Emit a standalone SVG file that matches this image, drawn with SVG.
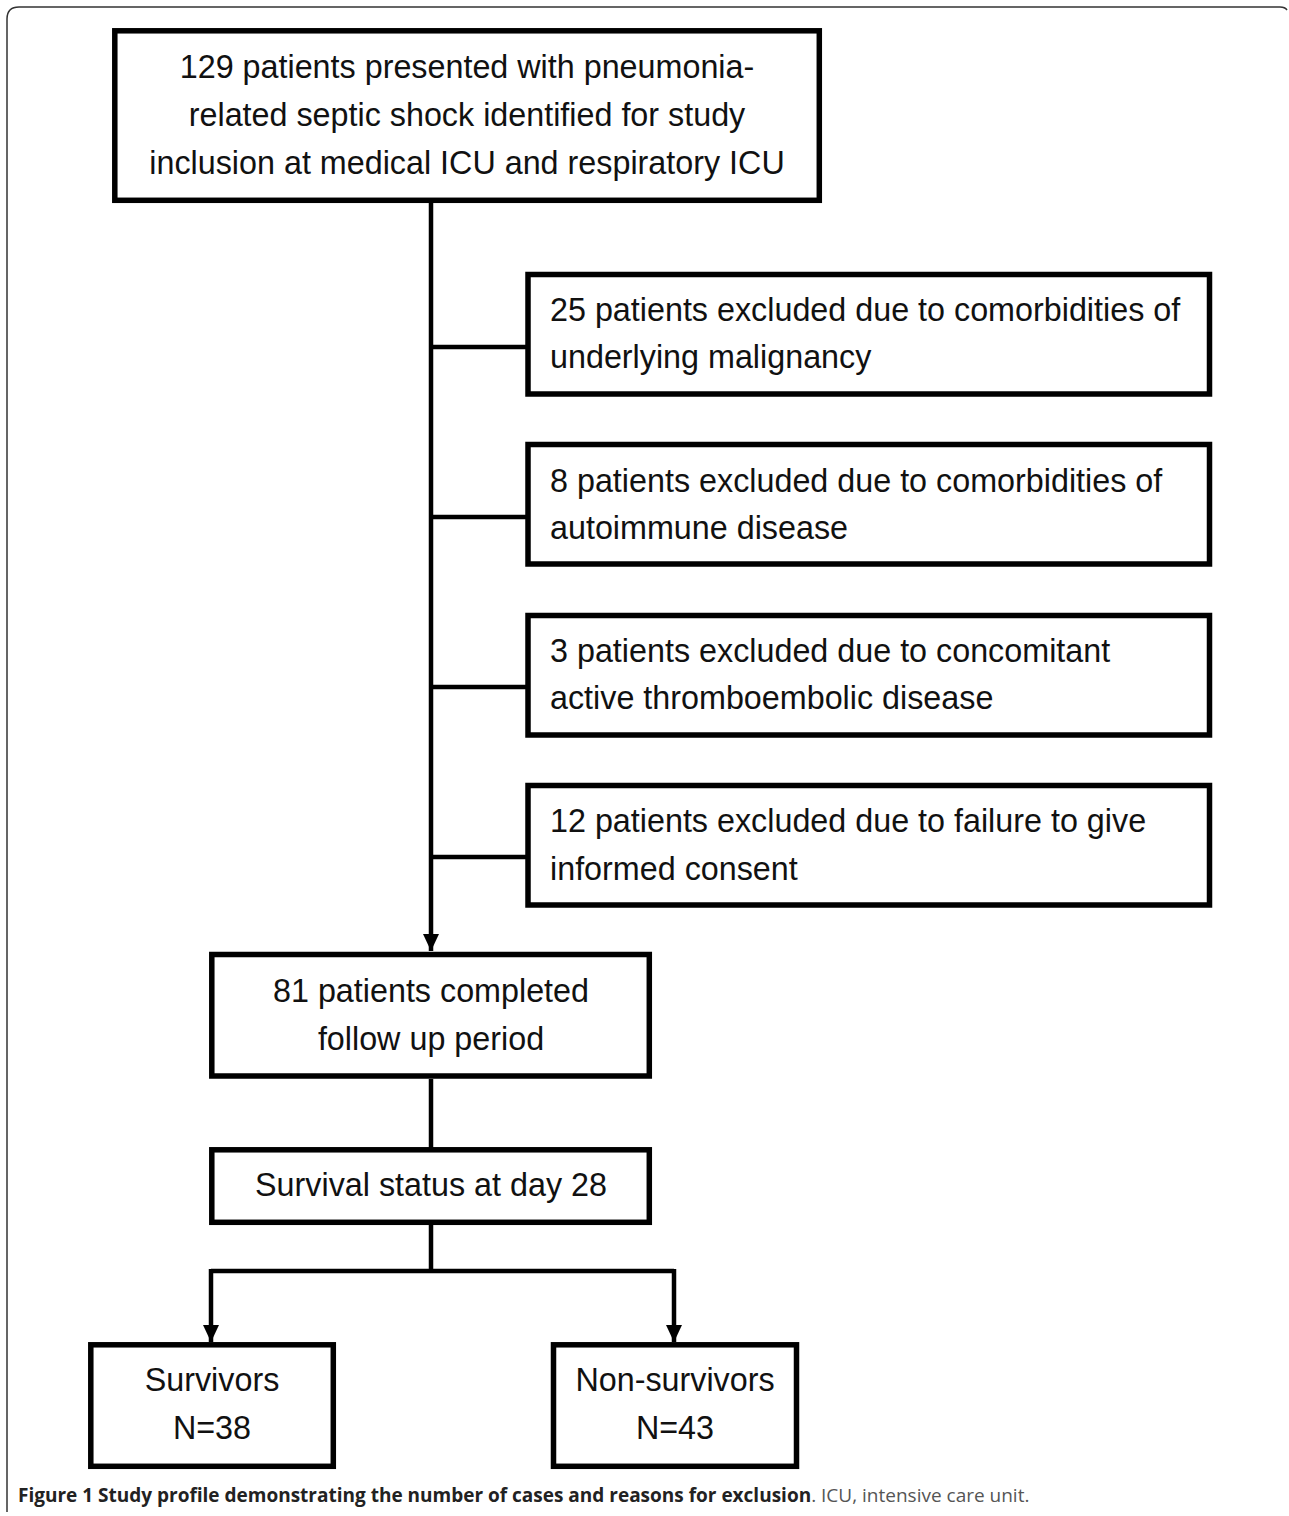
<svg xmlns="http://www.w3.org/2000/svg" width="1289" height="1516" viewBox="0 0 1289 1516">
<defs>
<marker id="arr" markerUnits="userSpaceOnUse" markerWidth="18" markerHeight="18" viewBox="0 0 18 18" refX="17" refY="9" orient="auto">
<path d="M0,1 L17,9 L0,17 Z" fill="#000"/>
</marker>
<style>
.box{fill:#fff;stroke:#000;stroke-width:5.5}
.t{font-family:"Liberation Sans",Arial,sans-serif;font-size:32.3px;fill:#111}
.c{text-anchor:middle}
.ln{fill:none;stroke:#000;stroke-width:4.5}
.cap{font-family:"Open Sans","Noto Sans",sans-serif;font-size:19px}
</style>
</defs>
<rect width="1289" height="1516" fill="#fff"/>
<path d="M7,1512 V19 Q7,7 19,7 H1280 Q1285,7 1287,10" fill="none" stroke="#333" stroke-width="1.5"/>

<g id="connectors">
<path class="ln" d="M431,203 V951" marker-end="url(#arr)"/>
<path class="ln" d="M431,347 H526 M431,517 H526 M431,687 H526 M431,857 H526"/>
<path class="ln" d="M431,1079 V1148"/>
<path class="ln" d="M431,1225 V1271 M211,1271 H674"/>
<path class="ln" d="M211,1269 V1342" marker-end="url(#arr)"/>
<path class="ln" d="M674,1269 V1342" marker-end="url(#arr)"/>
</g>

<g id="n_start">
<rect class="box" x="114.8" y="30.8" width="704.5" height="169.5"/>
<text class="t c" x="467" y="78">129 patients presented with pneumonia-</text>
<text class="t c" x="467" y="126">related septic shock identified for study</text>
<text class="t c" x="467" y="174">inclusion at medical ICU and respiratory ICU</text>
</g>

<g id="n_ex1">
<rect class="box" x="528" y="274.5" width="681.5" height="119.5"/>
<text class="t" x="550" y="321">25 patients excluded due to comorbidities of</text>
<text class="t" x="550" y="368">underlying malignancy</text>
</g>
<g id="n_ex2">
<rect class="box" x="528" y="444.5" width="681.5" height="119.5"/>
<text class="t" x="550" y="492">8 patients excluded due to comorbidities of</text>
<text class="t" x="550" y="539">autoimmune disease</text>
</g>
<g id="n_ex3">
<rect class="box" x="528" y="615.5" width="681.5" height="119.5"/>
<text class="t" x="550" y="662">3 patients excluded due to concomitant</text>
<text class="t" x="550" y="709">active thromboembolic disease</text>
</g>
<g id="n_ex4">
<rect class="box" x="528" y="785.5" width="681.5" height="119.5"/>
<text class="t" x="550" y="832">12 patients excluded due to failure to give</text>
<text class="t" x="550" y="880">informed consent</text>
</g>

<g id="n_completed">
<rect class="box" x="211.8" y="954.5" width="437.5" height="121.5"/>
<text class="t c" x="431" y="1002">81 patients completed</text>
<text class="t c" x="431" y="1050">follow up period</text>
</g>

<g id="n_survival">
<rect class="box" x="211.8" y="1149.8" width="437.5" height="72.5"/>
<text class="t c" x="431" y="1196">Survival status at day 28</text>
</g>

<g id="n_survivors">
<rect class="box" x="90.8" y="1344.8" width="242.5" height="121.5"/>
<text class="t c" x="212" y="1391">Survivors</text>
<text class="t c" x="212" y="1439">N=38</text>
</g>

<g id="n_nonsurvivors">
<rect class="box" x="553.5" y="1344.8" width="243" height="121.5"/>
<text class="t c" x="675" y="1391">Non-survivors</text>
<text class="t c" x="675" y="1439">N=43</text>
</g>

<text class="cap" x="18" y="1502"><tspan font-weight="bold" fill="#222">Figure 1 Study profile demonstrating the number of cases and reasons for exclusion</tspan><tspan fill="#555">. ICU, intensive care unit.</tspan></text>
</svg>
